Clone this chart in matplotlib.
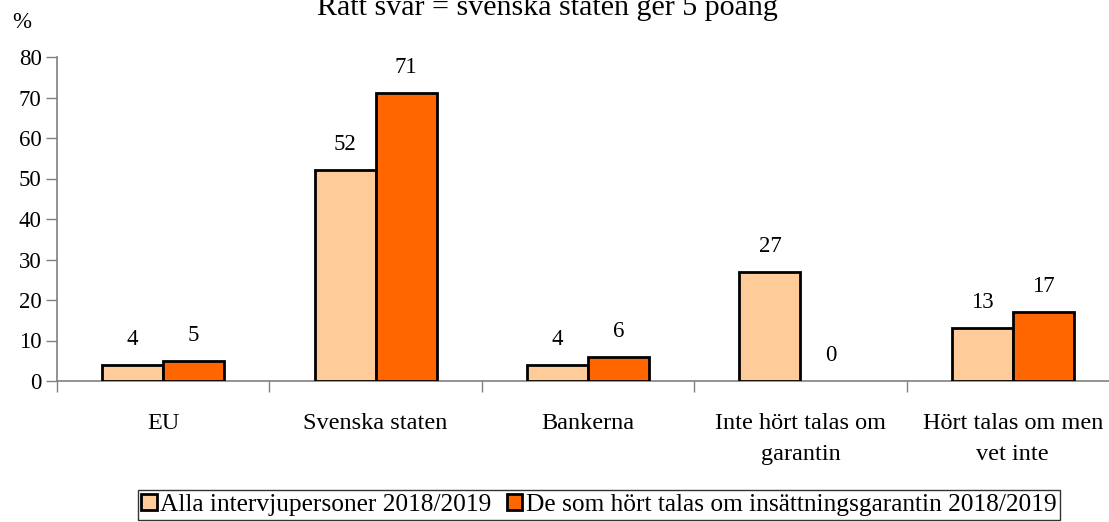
import numpy as np
import matplotlib.pyplot as plt

plt.rcParams['font.family'] = ['Liberation Serif', 'DejaVu Serif']

categories = ['EU', 'Svenska staten', 'Bankerna', 'Inte hört talas om\ngarantin',
              'Hört talas om men\nvet inte']
alla = [4, 52, 4, 27, 13]
hort = [5, 71, 6, 0, 17]
series_names = ['Alla intervjupersoner 2018/2019',
                'De som hört talas om insättningsgarantin 2018/2019']
title = 'Rätt svar = svenska staten ger 5 poäng'

fig = plt.figure(figsize=(11.09, 5.22), dpi=100)
# axes runs slightly past the right edge, as in the original
ax = fig.add_axes([57 / 1109, 1 - 381 / 522, 1062 / 1109, 324 / 522])

x = np.arange(len(categories))
w = 0.287
b1 = ax.bar(x - w / 2, alla, w, color='#FFCC99', edgecolor='black', linewidth=2,
            label=series_names[0], zorder=3)
b2 = ax.bar(x + w / 2, hort, w, color='#FF6600', edgecolor='black', linewidth=2,
            label=series_names[1], zorder=3)

for bars, vals in ((b1, alla), (b2, hort)):
    for r, v in zip(bars, vals):
        if v == 0:
            r.set_visible(False)
        ax.text(r.get_x() + r.get_width() / 2, v + 6.3, str(v), ha='center', va='center',
                fontsize=16.5)

ax.set_xlim(-0.5, len(categories) - 0.5)
ax.set_ylim(0, 80)
ax.set_yticks(range(0, 81, 10))
ax.tick_params(axis='y', labelsize=16.5, length=8, color='#808080', width=1, pad=3)
ax.set_xticks(np.arange(-0.5, len(categories), 1.0))
ax.set_xticklabels([])
ax.tick_params(axis='x', length=8, color='#808080', width=1)
ax.set_xticks(x, minor=True)
ax.set_xticklabels(categories, minor=True, fontsize=17.5, linespacing=1.6)
ax.tick_params(axis='x', which='minor', length=0, pad=23)

for s in ('top', 'right'):
    ax.spines[s].set_visible(False)
for s in ('left', 'bottom'):
    ax.spines[s].set_color('#808080')
    ax.spines[s].set_linewidth(1.2)

fig.text(22 / 1109, 1 - 22 / 522, '%', fontsize=16.5, ha='center', va='center')
fig.text(547 / 1109, 1 - 15 / 522, title, fontsize=21.6, ha='center', va='baseline')

leg = fig.legend(handles=[b1, b2], loc='center', bbox_to_anchor=(599 / 1109, 1 - 505 / 522),
                 ncol=2, frameon=True, fancybox=False, edgecolor='black', fontsize=18.3,
                 handlelength=0.6, handleheight=0.6, handletextpad=0.15, columnspacing=0.6,
                 borderpad=0.15, borderaxespad=0)
leg.get_frame().set_linewidth(1)

fig.savefig('out.png', dpi=100)
